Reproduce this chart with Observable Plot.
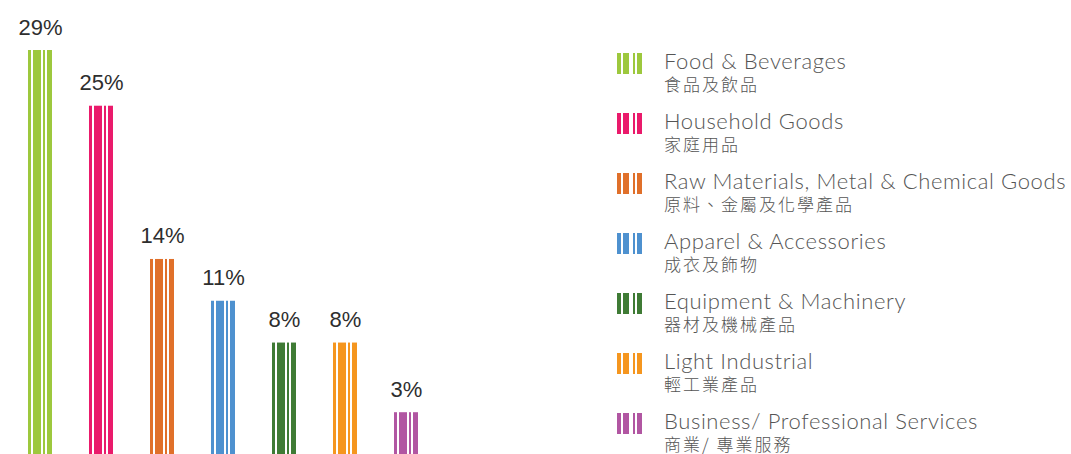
<!DOCTYPE html>
<html><head><meta charset="utf-8">
<script src="https://cdn.jsdelivr.net/npm/d3@7"></script>
<script src="https://cdn.jsdelivr.net/npm/@observablehq/plot@0.6"></script>
<style>
html,body{margin:0;padding:0;background:#fff;}
#wrap{position:relative;width:1071px;height:454px;overflow:hidden;}
#chart{position:absolute;left:0;top:0;}
#legend{position:absolute;left:617px;top:46px;}
.row{position:absolute;left:0;width:454px;height:60px;}
.sw{position:absolute;left:0;top:7px;width:25px;height:21px;}
.en{position:absolute;left:47px;top:3px;font-family:Lato,"Open Sans",sans-serif;font-weight:300;font-size:22px;letter-spacing:0.6px;line-height:24px;color:#555;white-space:nowrap;}
.zh{position:absolute;left:47px;top:29px;font-family:"Noto Sans CJK TC","Noto Sans CJK SC",sans-serif;font-weight:300;font-size:17px;letter-spacing:2px;line-height:18px;color:#555;white-space:nowrap;}
</style>
</head><body>
<div id="wrap"><div id="chart"></div><div id="legend"></div></div>
<script>
const categories = ["Food & Beverages","Household Goods","Raw Materials, Metal & Chemical Goods","Apparel & Accessories","Equipment & Machinery","Light Industrial","Business/ Professional Services"];
const categoriesZh = ["食品及飲品","家庭用品","原料、金屬及化學產品","成衣及飾物","器材及機械產品","輕工業產品","商業/ 專業服務"];
const values = [29,25,14,11,8,8,3];
const colors = ["#9dc83d","#ea1a6b","#e0702a","#4e91cf","#3f7b35","#f5961f","#b156a2"];

const data = categories.map((c,i)=>({category:c, value:values[i]}));
const stripes = [[0,21],[5,11],[15,7],[19,0]];
const marks = stripes.map(([l,r]) => Plot.barY(data, {x:"category", y:"value", fill:"category", insetLeft:l, insetRight:r}));
marks.push(Plot.text(data, {x:"category", y:"value", text:d=>d.value+"%", dy:-16, lineAnchor:"bottom", fontSize:22, fill:"#2e2e2e", fontFamily:"Liberation Sans, Arial, sans-serif"}));

const plot = Plot.plot({
  width:1071, height:454, margin:0,
  x:{domain:categories, range:[26,419], paddingInner:0.61, paddingOuter:0, axis:null},
  y:{domain:[0,29], range:[454,50], axis:null},
  color:{domain:categories, range:colors},
  marks
});
document.getElementById("chart").appendChild(plot);

const legend = document.getElementById("legend");
categories.forEach((c,i)=>{
  const col = colors[i];
  const row = document.createElement("div");
  row.className="row"; row.style.top=(i*60)+"px";
  const sw = document.createElement("div"); sw.className="sw";
  sw.style.background=`linear-gradient(to right, ${col} 0 14%, #fff 14% 22%, ${col} 22% 48%, #fff 48% 62%, ${col} 62% 70%, #fff 70% 80%, ${col} 80% 100%)`;
  const en = document.createElement("div"); en.className="en"; en.textContent=c;
  const zh = document.createElement("div"); zh.className="zh"; zh.textContent=categoriesZh[i];
  row.append(sw,en,zh); legend.appendChild(row);
});
</script>
</body></html>
